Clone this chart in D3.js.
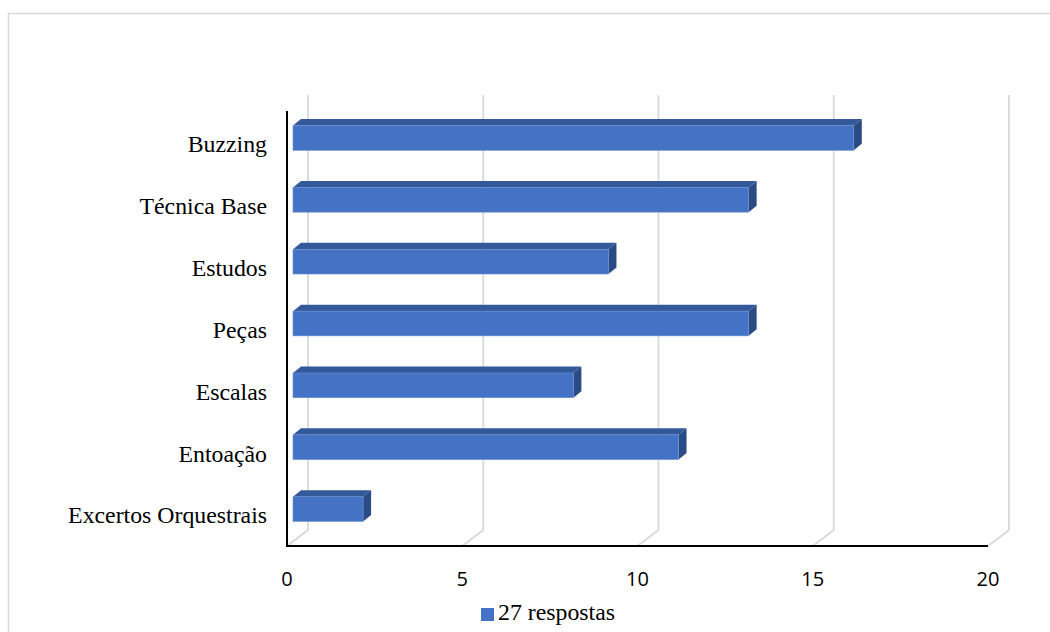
<!DOCTYPE html>
<html>
<head>
<meta charset="utf-8">
<script src="https://cdn.jsdelivr.net/npm/d3@7"></script>
<style>
  html, body { margin: 0; padding: 0; background: #fff; }
  svg { display: block; }
</style>
</head>
<body>
<svg id="chart" width="1050" height="632"></svg>
<script>
// Practice topics and number of answers
const categories = ["Buzzing", "Técnica Base", "Estudos", "Peças", "Escalas", "Entoação", "Excertos Orquestrais"];
const values = [16, 13, 9, 13, 8, 11, 2];
const xTicks = [0, 5, 10, 15, 20];
const seriesName = "27 respostas";

const serif = "'Liberation Serif', 'Times New Roman', serif";
const sans = "'Open Sans', 'Liberation Sans', sans-serif";

const svg = d3.select("#chart");

// Chart frame
svg.append("rect")
  .attr("x", 8.5).attr("y", 13.5)
  .attr("width", 1060).attr("height", 640)
  .attr("fill", "#fff").attr("stroke", "#d9d9d9").attr("stroke-width", 1.5);

// Front-plane scales
const x = d3.scaleLinear().domain([0, 20]).range([287, 988]);
const y = d3.scaleBand().domain(categories).range([113, 546])
  .paddingInner(0.6).paddingOuter(0.3);

// 3D depth of the wall and of the bars
const wall = { dx: 21, dy: -16 };
const barShift = { dx: 6, dy: -6 };
const barDepth = { dx: 8, dy: -6.5 };
const floorY = 546;

// Gridlines on the back wall, folding onto the floor
const grid = svg.append("g");
xTicks.forEach(t => {
  const bx = x(t) + wall.dx;
  grid.append("polyline")
    .attr("points", [[bx, 111 + wall.dy], [bx, floorY + wall.dy], [x(t), floorY]].map(p => p.join(",")).join(" "))
    .attr("fill", "none")
    .attr("stroke", "#d9d9d9")
    .attr("stroke-width", 1.8);
});

// Bars (front, top and side faces)
const bars = svg.append("g");
categories.forEach((c, i) => {
  const v = values[i];
  const x0 = x(0) + barShift.dx, x1 = x(v) + barShift.dx;
  const y0 = y(c) + barShift.dy, y1 = y0 + y.bandwidth();
  const pts = arr => arr.map(p => p.join(",")).join(" ");
  bars.append("polygon")
    .attr("points", pts([[x0, y0], [x1, y0], [x1 + barDepth.dx, y0 + barDepth.dy], [x0 + barDepth.dx, y0 + barDepth.dy]]))
    .attr("fill", "#34599b");
  bars.append("polygon")
    .attr("points", pts([[x1, y0], [x1 + barDepth.dx, y0 + barDepth.dy], [x1 + barDepth.dx, y1 + barDepth.dy], [x1, y1]]))
    .attr("fill", "#2b4b85");
  bars.append("rect")
    .attr("x", x0).attr("y", y0)
    .attr("width", x1 - x0).attr("height", y1 - y0)
    .attr("fill", "#4472c4")
    .attr("stroke", "#6d8fd2").attr("stroke-width", 0.6);
});

// Axis lines
svg.append("line")
  .attr("x1", x(0)).attr("x2", x(0))
  .attr("y1", 111).attr("y2", floorY + 1)
  .attr("stroke", "#000").attr("stroke-width", 2);
svg.append("line")
  .attr("x1", x(0) - 1).attr("x2", x(20))
  .attr("y1", floorY).attr("y2", floorY)
  .attr("stroke", "#000").attr("stroke-width", 2);

// Category labels
svg.append("g").selectAll("text")
  .data(categories)
  .join("text")
  .attr("x", 267)
  .attr("y", d => y(d) + y.bandwidth() / 2)
  .attr("dy", "0.35em")
  .attr("text-anchor", "end")
  .style("font-family", serif)
  .style("font-size", "23.8px")
  .attr("fill", "#000")
  .text(d => d);

// Value axis tick labels
svg.append("g").selectAll("text")
  .data(xTicks)
  .join("text")
  .attr("x", d => x(d))
  .attr("y", 586)
  .attr("text-anchor", "middle")
  .style("font-family", sans)
  .style("font-size", "20px")
  .attr("fill", "#000")
  .text(d => d);

// Legend
const legend = svg.append("g");
legend.append("rect")
  .attr("x", 481).attr("y", 608)
  .attr("width", 13).attr("height", 13)
  .attr("fill", "#4472c4");
legend.append("text")
  .attr("x", 498).attr("y", 620)
  .style("font-family", serif)
  .style("font-size", "23.8px")
  .attr("fill", "#000")
  .text(seriesName);
</script>
</body>
</html>
